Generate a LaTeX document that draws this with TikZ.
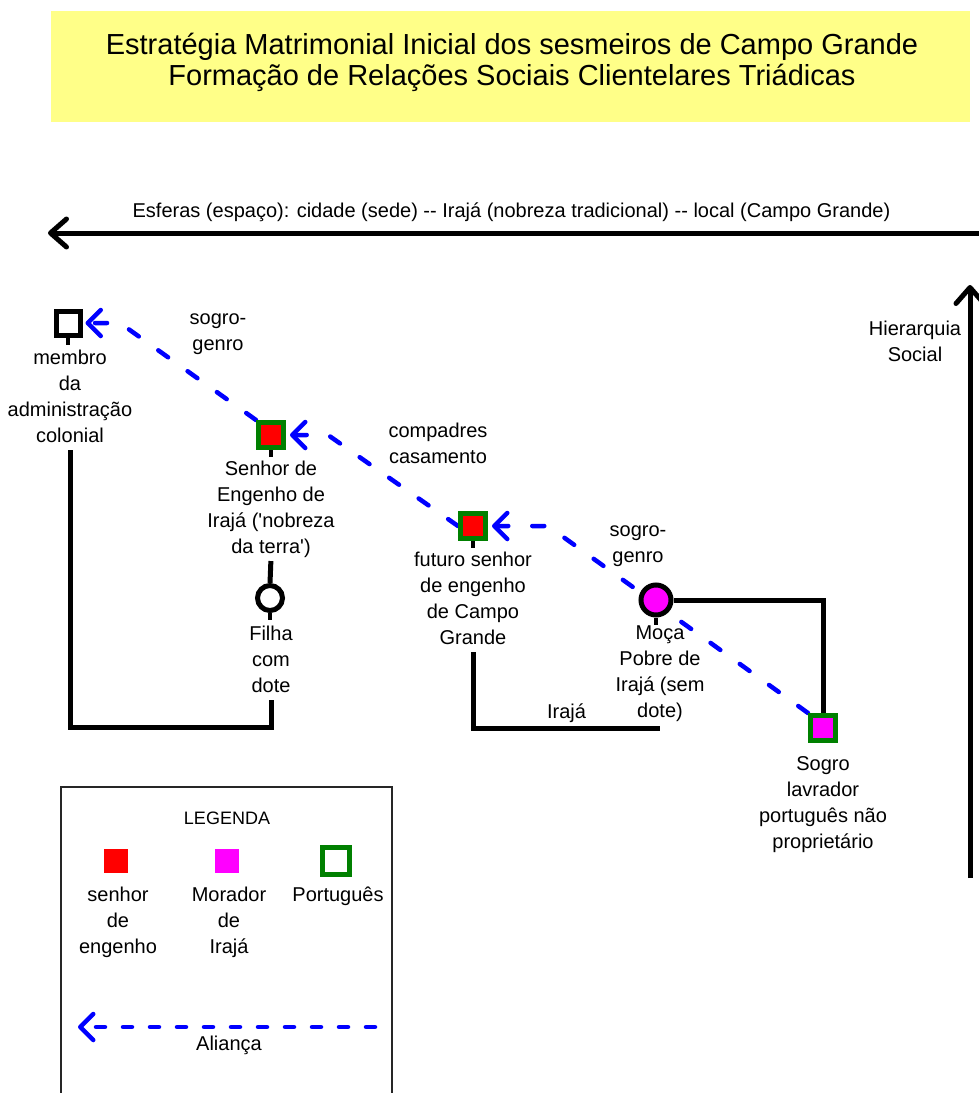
\documentclass[tikz,border=0pt]{standalone}
\usepackage{fontspec}
\setmainfont{Liberation Sans}
\usetikzlibrary{arrows.meta,backgrounds}
\definecolor{amarelotit}{HTML}{FFFF88}
\definecolor{verdeport}{HTML}{008000}
\definecolor{morador}{HTML}{FF00FF}
\definecolor{engenho}{HTML}{FF0000}

\tikzset{
  txt/.style={align=center, inner sep=0pt, font=\fontsize{20}{26}\selectfont},
  pessoa/.style={draw, line width=5pt, minimum size=24pt, inner sep=0pt, fill=white},
  portugues/.style={pessoa, draw=verdeport, minimum size=25pt},
  mulher/.style={pessoa, circle, minimum size=25pt},
  laco/.style={line width=5pt},
  alianca/.style={blue, line width=4.5pt, line cap=round, dash pattern=on 12pt off 24pt,
    -{Straight Barb[length=13pt,width=26pt,round]}},
  eixo/.style={line width=5pt, -{Straight Barb[length=16pt,width=28pt,round]}},
}

\begin{document}
\begin{tikzpicture}[x=1pt,y=-1pt]
  \useasboundingbox (0,0) rectangle (979,1093);

  % Titulo
  \fill[amarelotit] (51,11) rectangle (970,122);
  \node[align=center, inner sep=0pt, font=\fontsize{29}{31}\selectfont] (titulo) at (512,62.5)
    {Estratégia Matrimonial Inicial dos sesmeiros de Campo Grande\\Formação de Relações Sociais Clientelares Triádicas};

  % Eixos
  \coordinate (esferaD) at (979,233);
  \coordinate (esferaE) at (48,233);
  \draw[eixo] (esferaD) -- (esferaE);
  \node[txt] (lesferas) at (511.5,212) {Esferas (espaço): cidade (sede) -{}- Irajá (nobreza tradicional) -{}- local (Campo Grande)};
  \coordinate (hierB) at (970,878);
  \coordinate (hierT) at (970,285);
  \draw[eixo] (hierB) -- (hierT);
  \node[txt] (lhier) at (915,341) {Hierarquia\\Social};

  % Pessoas
  \node[pessoa] (membro) at (68,323) {};
  \node[portugues, fill=engenho] (senhor) at (271,435) {};
  \node[mulher] (filha) at (270,598) {};
  \node[portugues, fill=engenho] (futuro) at (473,526) {};
  \node[mulher, fill=morador, minimum size=30pt] (moca) at (656,600) {};
  \node[portugues, fill=morador] (sogro) at (823,728) {};

  \node[txt, anchor=north] (lmembro) at (70,350) {membro\\da\\administração\\colonial};
  \node[txt, anchor=north] (lsenhor) at (271,461) {Senhor de\\Engenho de\\Irajá (\textquotesingle nobreza\\da terra\textquotesingle)};
  \node[txt, anchor=north] (lfilha) at (271,626) {Filha\\com\\dote};
  \node[txt, anchor=north] (lfuturo) at (473,552) {futuro senhor\\de engenho\\de Campo\\Grande};
  \node[txt, anchor=north] (lmoca) at (660,626) {Moça\\Pobre de\\Irajá (sem\\dote)};
  \node[txt, anchor=north] (lsogro) at (823,756) {Sogro\\lavrador\\português não\\proprietário};

  \foreach \p in {membro,senhor,futuro,filha,moca}
    \draw[line width=3.5pt] (\p.south) -- ++(0,7);

  % Lacos de parentesco
  \draw[laco, shorten <=7pt, shorten >=7pt] (lmembro.south) |- (lfilha.south |- 0,727) -- (lfilha.south);
  \draw[laco, shorten <=3pt] (lsenhor.south) -- (filha.north);
  \draw[laco, shorten <=7pt] (lfuturo.south) |- (lmoca.south |- 0,728)
    node[txt, pos=0.75, above=3pt] (lcasam) {Irajá};
  \draw[laco] (moca.east) -| (sogro.north);

  % Aliancas
  \begin{scope}[on background layer]
    \coordinate (k1) at (548,526);
    \coordinate (k2) at (328,435);
    \coordinate (k3) at (120,323);
    \draw[alianca, shorten >=4pt] (sogro.north west) -- (k1) -- (futuro.east);
    \draw[alianca, shorten >=4pt] (futuro.west) -- (k2) -- (senhor.east);
    \draw[alianca, shorten >=3pt] (senhor.north west) -- (k3) -- (membro.east);
  \end{scope}
  \node[txt] (lsogro1) at (218,334) {sogro-\\genro};
  \node[txt] (lcompadres) at (438,443) {compadres\\casamento};
  \node[txt] (lsogro2) at (638,546) {sogro-\\genro};

  % Legenda
  \draw[line width=1.5pt, black!85] (61,1100) -- (61,787) -- (392,787) -- (392,1100);
  \node[inner sep=0pt, font=\fontsize{18}{22}\selectfont] (legenda) at (227,818) {LEGENDA};
  \node[fill=engenho, minimum size=24pt, inner sep=0pt] (legsenhor) at (116,861) {};
  \node[fill=morador, minimum size=24pt, inner sep=0pt] (legmorador) at (227,861) {};
  \node[draw=verdeport, line width=5pt, minimum size=27pt, inner sep=0pt] (legport) at (336,861) {};
  \node[txt, anchor=north] (llegsenhor) at (118,887) {senhor\\de\\engenho};
  \node[txt, anchor=north] (llegmorador) at (229,887) {Morador\\de\\Irajá};
  \node[txt, anchor=north] (llegport) at (338,887) {Português};
  \coordinate (legini) at (375,1027);
  \coordinate (legfim) at (78,1027);
  \draw[alianca, dash pattern=on 9pt off 18pt] (legini) -- (legfim);
  \node[txt] (lalianca) at (229,1045) {Aliança};
\end{tikzpicture}
\end{document}
